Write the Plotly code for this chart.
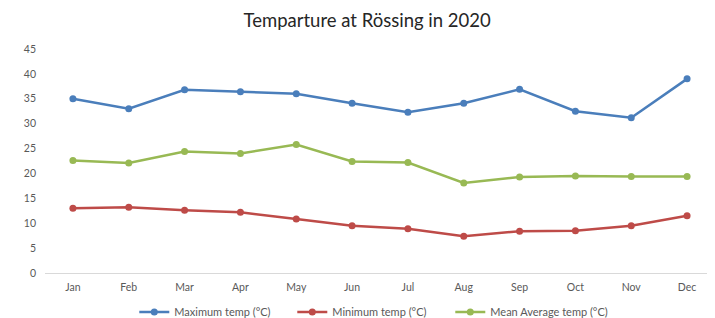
import plotly.graph_objects as go

months = ["Jan", "Feb", "Mar", "Apr", "May", "Jun", "Jul", "Aug", "Sep", "Oct", "Nov", "Dec"]
max_temp = [35.0, 33.0, 36.8, 36.4, 36.0, 34.1, 32.3, 34.1, 36.9, 32.5, 31.2, 39.0]
min_temp = [13.0, 13.2, 12.6, 12.2, 10.85, 9.5, 8.9, 7.4, 8.4, 8.5, 9.5, 11.5]
mean_temp = [22.6, 22.1, 24.4, 24.0, 25.8, 22.4, 22.2, 18.1, 19.3, 19.5, 19.4, 19.4]

series = [
    ("Maximum temp (°C)", max_temp, "#4A7EBB"),
    ("Minimum temp (°C)", min_temp, "#BE4B48"),
    ("Mean Average temp (°C)", mean_temp, "#98B954"),
]

fig = go.Figure()
for name, vals, col in series:
    fig.add_trace(go.Scatter(
        x=months, y=vals, name=name, mode="lines+markers",
        line=dict(color=col, width=2.5),
        marker=dict(color=col, size=7),
    ))

fig.update_layout(
    width=707, height=310,
    margin=dict(l=37, r=0, t=41, b=45, autoexpand=False),
    paper_bgcolor="white", plot_bgcolor="white",
    font=dict(family="Lato, sans-serif", color="#595959", size=10.5),
    title=dict(text="Temparture at Rössing in 2020", x=0.508, xanchor="center",
               y=0.961, yanchor="middle",
               font=dict(size=18.5, color="#262626", family="Lato, sans-serif")),
    showlegend=True,
    legend=dict(orientation="h", x=0.487, xanchor="center", y=-0.174, yanchor="middle",
                font=dict(size=11, color="#595959"), entrywidth=113, entrywidthmode="pixels",
                itemwidth=30, tracegroupgap=0),
    xaxis=dict(range=[-0.5, 11.5], showgrid=False, showline=True, linecolor="#D9D9D9",
               linewidth=1, automargin=False, ticks="",
               tickfont=dict(size=10.5, color="#595959"), ticklabelstandoff=4),
    yaxis=dict(range=[0, 45], dtick=5, showgrid=False, zeroline=False, showline=False,
               automargin=False, ticks="", tickfont=dict(size=10.5, color="#595959"),
               ticklabelstandoff=8),
)

fig.write_html("out.html")
